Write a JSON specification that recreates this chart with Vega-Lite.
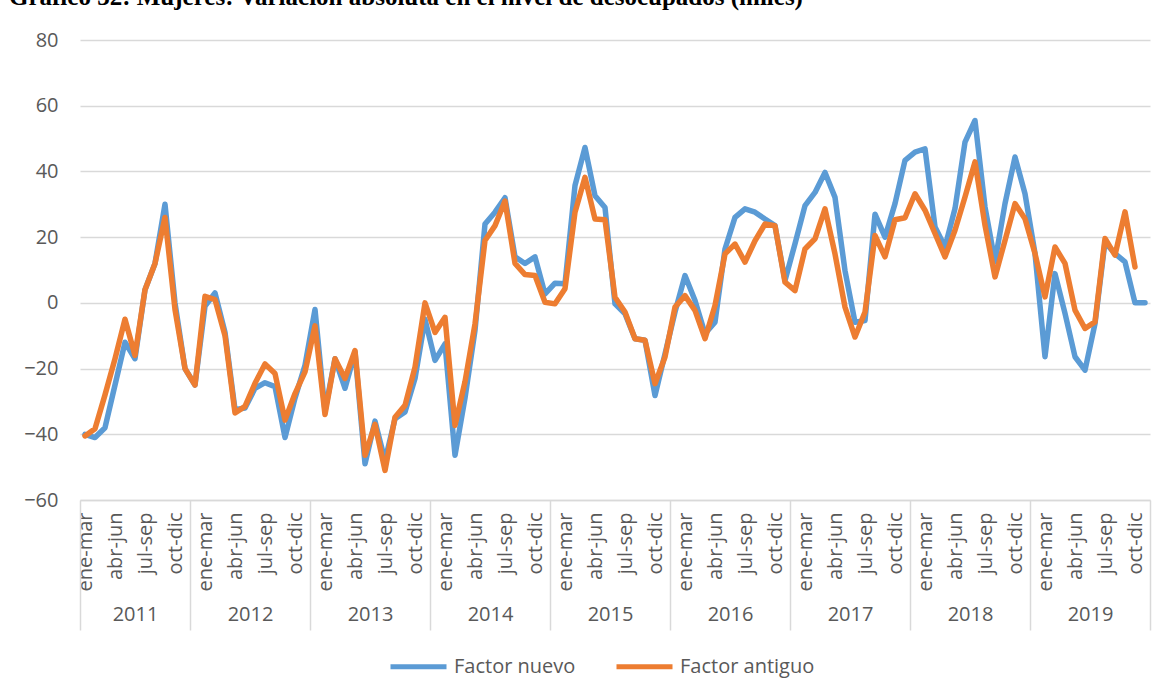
{
  "$schema": "https://vega.github.io/schema/vega-lite/v6.json",
  "width": 1070,
  "height": 460,
  "autosize": {"type": "none"},
  "padding": {"left": 80, "top": 40, "right": 17, "bottom": 198},
  "background": "white",
  "title": {
    "text": "Gráfico 32: Mujeres: Variación absoluta en el nivel de desocupados (miles)",
    "anchor": "start",
    "frame": "group",
    "font": "Liberation Serif",
    "fontSize": 25,
    "fontWeight": "bold",
    "color": "black",
    "dx": -71,
    "offset": 0,
    "baseline": "alphabetic"
  },
  "config": {
    "view": {"stroke": null},
    "legend": {
      "orient": "none",
      "legendX": 308,
      "legendY": 596,
      "direction": "horizontal",
      "title": null,
      "symbolType": "stroke",
      "symbolSize": 3136,
      "symbolStrokeWidth": 5,
      "labelFont": "Open Sans",
      "labelFontSize": 20,
      "labelColor": "#595959",
      "labelOffset": 5,
      "columnPadding": 30,
      "labelLimit": 400
    }
  },
  "data": {
    "values": [
      {"i": 0, "anio": 2011, "trimestre": "ene-mar", "nuevo": -40, "antiguo": -40.5},
      {"i": 1, "anio": 2011, "trimestre": "feb-abr", "nuevo": -41, "antiguo": -38.3},
      {"i": 2, "anio": 2011, "trimestre": "mar-may", "nuevo": -38, "antiguo": -28},
      {"i": 3, "anio": 2011, "trimestre": "abr-jun", "nuevo": -25, "antiguo": -17},
      {"i": 4, "anio": 2011, "trimestre": "may-jul", "nuevo": -12, "antiguo": -5},
      {"i": 5, "anio": 2011, "trimestre": "jun-ago", "nuevo": -17, "antiguo": -16},
      {"i": 6, "anio": 2011, "trimestre": "jul-sep", "nuevo": 4, "antiguo": 4},
      {"i": 7, "anio": 2011, "trimestre": "ago-oct", "nuevo": 12, "antiguo": 12},
      {"i": 8, "anio": 2011, "trimestre": "sep-nov", "nuevo": 30, "antiguo": 26},
      {"i": 9, "anio": 2011, "trimestre": "oct-dic", "nuevo": 0, "antiguo": -2},
      {"i": 10, "anio": 2011, "trimestre": "nov-ene", "nuevo": -20, "antiguo": -20},
      {"i": 11, "anio": 2012, "trimestre": "dic-feb", "nuevo": -25, "antiguo": -25},
      {"i": 12, "anio": 2012, "trimestre": "ene-mar", "nuevo": -1, "antiguo": 2},
      {"i": 13, "anio": 2012, "trimestre": "feb-abr", "nuevo": 3, "antiguo": 1},
      {"i": 14, "anio": 2012, "trimestre": "mar-may", "nuevo": -9, "antiguo": -10},
      {"i": 15, "anio": 2012, "trimestre": "abr-jun", "nuevo": -32.5, "antiguo": -33.5},
      {"i": 16, "anio": 2012, "trimestre": "may-jul", "nuevo": -32, "antiguo": -31.5},
      {"i": 17, "anio": 2012, "trimestre": "jun-ago", "nuevo": -26, "antiguo": -24.5},
      {"i": 18, "anio": 2012, "trimestre": "jul-sep", "nuevo": -24.3, "antiguo": -18.6},
      {"i": 19, "anio": 2012, "trimestre": "ago-oct", "nuevo": -25.5, "antiguo": -21.5},
      {"i": 20, "anio": 2012, "trimestre": "sep-nov", "nuevo": -41, "antiguo": -35.7},
      {"i": 21, "anio": 2012, "trimestre": "oct-dic", "nuevo": -29, "antiguo": -27.6},
      {"i": 22, "anio": 2012, "trimestre": "nov-ene", "nuevo": -19, "antiguo": -21},
      {"i": 23, "anio": 2013, "trimestre": "dic-feb", "nuevo": -2, "antiguo": -7},
      {"i": 24, "anio": 2013, "trimestre": "ene-mar", "nuevo": -33, "antiguo": -34},
      {"i": 25, "anio": 2013, "trimestre": "feb-abr", "nuevo": -17, "antiguo": -17},
      {"i": 26, "anio": 2013, "trimestre": "mar-may", "nuevo": -26, "antiguo": -23},
      {"i": 27, "anio": 2013, "trimestre": "abr-jun", "nuevo": -15, "antiguo": -14.5},
      {"i": 28, "anio": 2013, "trimestre": "may-jul", "nuevo": -49, "antiguo": -46.4},
      {"i": 29, "anio": 2013, "trimestre": "jun-ago", "nuevo": -36, "antiguo": -37},
      {"i": 30, "anio": 2013, "trimestre": "jul-sep", "nuevo": -48, "antiguo": -51},
      {"i": 31, "anio": 2013, "trimestre": "ago-oct", "nuevo": -35.3, "antiguo": -34.8},
      {"i": 32, "anio": 2013, "trimestre": "sep-nov", "nuevo": -33.2, "antiguo": -31.2},
      {"i": 33, "anio": 2013, "trimestre": "oct-dic", "nuevo": -23, "antiguo": -19.6},
      {"i": 34, "anio": 2013, "trimestre": "nov-ene", "nuevo": -5, "antiguo": 0},
      {"i": 35, "anio": 2014, "trimestre": "dic-feb", "nuevo": -17.5, "antiguo": -9},
      {"i": 36, "anio": 2014, "trimestre": "ene-mar", "nuevo": -12.5, "antiguo": -4.4},
      {"i": 37, "anio": 2014, "trimestre": "feb-abr", "nuevo": -46.4, "antiguo": -37.3},
      {"i": 38, "anio": 2014, "trimestre": "mar-may", "nuevo": -29, "antiguo": -24},
      {"i": 39, "anio": 2014, "trimestre": "abr-jun", "nuevo": -8.4, "antiguo": -6.4},
      {"i": 40, "anio": 2014, "trimestre": "may-jul", "nuevo": 24, "antiguo": 19},
      {"i": 41, "anio": 2014, "trimestre": "jun-ago", "nuevo": 27.6, "antiguo": 23.5},
      {"i": 42, "anio": 2014, "trimestre": "jul-sep", "nuevo": 32, "antiguo": 31},
      {"i": 43, "anio": 2014, "trimestre": "ago-oct", "nuevo": 14, "antiguo": 12},
      {"i": 44, "anio": 2014, "trimestre": "sep-nov", "nuevo": 12, "antiguo": 8.6},
      {"i": 45, "anio": 2014, "trimestre": "oct-dic", "nuevo": 14, "antiguo": 8.3},
      {"i": 46, "anio": 2014, "trimestre": "nov-ene", "nuevo": 2.7, "antiguo": 0.2},
      {"i": 47, "anio": 2015, "trimestre": "dic-feb", "nuevo": 6, "antiguo": -0.3},
      {"i": 48, "anio": 2015, "trimestre": "ene-mar", "nuevo": 5.8, "antiguo": 4.3},
      {"i": 49, "anio": 2015, "trimestre": "feb-abr", "nuevo": 35.7, "antiguo": 27.6},
      {"i": 50, "anio": 2015, "trimestre": "mar-may", "nuevo": 47.3, "antiguo": 38.2},
      {"i": 51, "anio": 2015, "trimestre": "abr-jun", "nuevo": 32.6, "antiguo": 25.5},
      {"i": 52, "anio": 2015, "trimestre": "may-jul", "nuevo": 29, "antiguo": 25.3},
      {"i": 53, "anio": 2015, "trimestre": "jun-ago", "nuevo": -0.3, "antiguo": 1.7},
      {"i": 54, "anio": 2015, "trimestre": "jul-sep", "nuevo": -3.3, "antiguo": -2.8},
      {"i": 55, "anio": 2015, "trimestre": "ago-oct", "nuevo": -10.9, "antiguo": -10.9},
      {"i": 56, "anio": 2015, "trimestre": "sep-nov", "nuevo": -11.4, "antiguo": -11.4},
      {"i": 57, "anio": 2015, "trimestre": "oct-dic", "nuevo": -28.2, "antiguo": -24.6},
      {"i": 58, "anio": 2015, "trimestre": "nov-ene", "nuevo": -15.5, "antiguo": -16.5},
      {"i": 59, "anio": 2016, "trimestre": "dic-feb", "nuevo": -2.8, "antiguo": -1.3},
      {"i": 60, "anio": 2016, "trimestre": "ene-mar", "nuevo": 8.3, "antiguo": 2.2},
      {"i": 61, "anio": 2016, "trimestre": "feb-abr", "nuevo": 0.7, "antiguo": -2.3},
      {"i": 62, "anio": 2016, "trimestre": "mar-may", "nuevo": -9.4, "antiguo": -10.9},
      {"i": 63, "anio": 2016, "trimestre": "abr-jun", "nuevo": -5.9, "antiguo": -0.8},
      {"i": 64, "anio": 2016, "trimestre": "may-jul", "nuevo": 16.4, "antiguo": 14.9},
      {"i": 65, "anio": 2016, "trimestre": "jun-ago", "nuevo": 26, "antiguo": 17.9},
      {"i": 66, "anio": 2016, "trimestre": "jul-sep", "nuevo": 28.6, "antiguo": 12.4},
      {"i": 67, "anio": 2016, "trimestre": "ago-oct", "nuevo": 27.6, "antiguo": 18.9},
      {"i": 68, "anio": 2016, "trimestre": "sep-nov", "nuevo": 25.5, "antiguo": 24},
      {"i": 69, "anio": 2016, "trimestre": "oct-dic", "nuevo": 23.5, "antiguo": 23.5},
      {"i": 70, "anio": 2016, "trimestre": "nov-ene", "nuevo": 6.8, "antiguo": 6.3},
      {"i": 71, "anio": 2017, "trimestre": "dic-feb", "nuevo": 18, "antiguo": 3.7},
      {"i": 72, "anio": 2017, "trimestre": "ene-mar", "nuevo": 29.6, "antiguo": 16.4},
      {"i": 73, "anio": 2017, "trimestre": "feb-abr", "nuevo": 33.6, "antiguo": 19.5},
      {"i": 74, "anio": 2017, "trimestre": "mar-may", "nuevo": 39.7, "antiguo": 28.6},
      {"i": 75, "anio": 2017, "trimestre": "abr-jun", "nuevo": 32.1, "antiguo": 14.9},
      {"i": 76, "anio": 2017, "trimestre": "may-jul", "nuevo": 9.8, "antiguo": -1.3},
      {"i": 77, "anio": 2017, "trimestre": "jun-ago", "nuevo": -5.9, "antiguo": -10.4},
      {"i": 78, "anio": 2017, "trimestre": "jul-sep", "nuevo": -5.4, "antiguo": -2.8},
      {"i": 79, "anio": 2017, "trimestre": "ago-oct", "nuevo": 27, "antiguo": 20.5},
      {"i": 80, "anio": 2017, "trimestre": "sep-nov", "nuevo": 20, "antiguo": 14},
      {"i": 81, "anio": 2017, "trimestre": "oct-dic", "nuevo": 30.2, "antiguo": 25.3},
      {"i": 82, "anio": 2017, "trimestre": "nov-ene", "nuevo": 43.4, "antiguo": 25.9},
      {"i": 83, "anio": 2018, "trimestre": "dic-feb", "nuevo": 45.9, "antiguo": 33.2},
      {"i": 84, "anio": 2018, "trimestre": "ene-mar", "nuevo": 46.9, "antiguo": 28.2},
      {"i": 85, "anio": 2018, "trimestre": "feb-abr", "nuevo": 23.1, "antiguo": 21.1},
      {"i": 86, "anio": 2018, "trimestre": "mar-may", "nuevo": 17, "antiguo": 14},
      {"i": 87, "anio": 2018, "trimestre": "abr-jun", "nuevo": 28.7, "antiguo": 22.1},
      {"i": 88, "anio": 2018, "trimestre": "may-jul", "nuevo": 48.9, "antiguo": 32.2},
      {"i": 89, "anio": 2018, "trimestre": "jun-ago", "nuevo": 55.5, "antiguo": 42.9},
      {"i": 90, "anio": 2018, "trimestre": "jul-sep", "nuevo": 29.2, "antiguo": 23.6},
      {"i": 91, "anio": 2018, "trimestre": "ago-oct", "nuevo": 12.5, "antiguo": 7.9},
      {"i": 92, "anio": 2018, "trimestre": "sep-nov", "nuevo": 30.2, "antiguo": 19},
      {"i": 93, "anio": 2018, "trimestre": "oct-dic", "nuevo": 44.4, "antiguo": 30.2},
      {"i": 94, "anio": 2018, "trimestre": "nov-ene", "nuevo": 33.2, "antiguo": 25.6},
      {"i": 95, "anio": 2019, "trimestre": "dic-feb", "nuevo": 15, "antiguo": 15},
      {"i": 96, "anio": 2019, "trimestre": "ene-mar", "nuevo": -16.4, "antiguo": 1.8},
      {"i": 97, "anio": 2019, "trimestre": "feb-abr", "nuevo": 8.9, "antiguo": 17},
      {"i": 98, "anio": 2019, "trimestre": "mar-may", "nuevo": -3.2, "antiguo": 12},
      {"i": 99, "anio": 2019, "trimestre": "abr-jun", "nuevo": -16.4, "antiguo": -2.2},
      {"i": 100, "anio": 2019, "trimestre": "may-jul", "nuevo": -20.5, "antiguo": -7.8},
      {"i": 101, "anio": 2019, "trimestre": "jun-ago", "nuevo": -6.3, "antiguo": -5.8},
      {"i": 102, "anio": 2019, "trimestre": "jul-sep", "nuevo": 18.5, "antiguo": 19.6},
      {"i": 103, "anio": 2019, "trimestre": "ago-oct", "nuevo": 15, "antiguo": 14.5},
      {"i": 104, "anio": 2019, "trimestre": "sep-nov", "nuevo": 12.5, "antiguo": 27.7},
      {"i": 105, "anio": 2019, "trimestre": "oct-dic", "nuevo": 0, "antiguo": 10.9},
      {"i": 106, "anio": 2019, "trimestre": "nov-ene", "nuevo": 0, "antiguo": null}
    ]
  },
  "layer": [
    {
      "mark": {"type": "line", "strokeWidth": 5.5, "strokeCap": "round", "strokeJoin": "round"},
      "encoding": {
        "x": {
          "field": "i", "type": "quantitative",
          "scale": {"domain": [-0.5, 106.5], "nice": false, "zero": false},
          "axis": {
            "orient": "bottom",
            "values": [0, 3, 6, 9, 12, 15, 18, 21, 24, 27, 30, 33, 36, 39, 42, 45, 48, 51, 54, 57, 60, 63, 66, 69, 72, 75, 78, 81, 84, 87, 90, 93, 96, 99, 102, 105],
            "labelExpr": "['ene-mar','abr-jun','jul-sep','oct-dic'][(datum.value % 12) / 3]",
            "labelAngle": -90,
            "ticks": false,
            "grid": false,
            "domain": true,
            "domainColor": "#D9D9D9",
            "domainWidth": 1.5,
            "labelPadding": 12,
            "labelFont": "Open Sans",
            "labelFontSize": 20,
            "labelColor": "#595959",
            "labelOverlap": false,
            "labelFlush": false,
            "labelBound": false,
            "title": null
          }
        },
        "y": {
          "field": "nuevo", "type": "quantitative",
          "scale": {"domain": [-60, 80], "nice": false, "zero": false},
          "axis": {
            "values": [-60, -40, -20, 0, 20, 40, 60, 80],
            "grid": true, "gridColor": "#D9D9D9", "gridWidth": 1.5,
            "domain": false, "ticks": false, "labelPadding": 22,
            "labelFont": "Open Sans", "labelFontSize": 20, "labelColor": "#595959",
            "title": null
          }
        },
        "color": {
          "datum": "Factor nuevo",
          "scale": {"domain": ["Factor nuevo", "Factor antiguo"], "range": ["#5B9BD5", "#ED7D31"]}
        }
      }
    },
    {
      "mark": {"type": "line", "strokeWidth": 5.5, "strokeCap": "round", "strokeJoin": "round"},
      "encoding": {
        "x": {
          "field": "i", "type": "quantitative",
          "scale": {"domain": [-0.5, 106.5], "nice": false, "zero": false},
          "axis": null
        },
        "y": {
          "field": "antiguo", "type": "quantitative",
          "scale": {"domain": [-60, 80], "nice": false, "zero": false},
          "axis": {
            "values": [-60, -40, -20, 0, 20, 40, 60, 80],
            "grid": true, "gridColor": "#D9D9D9", "gridWidth": 1.5,
            "domain": false, "ticks": false, "labelPadding": 22,
            "labelFont": "Open Sans", "labelFontSize": 20, "labelColor": "#595959",
            "title": null
          }
        },
        "color": {"datum": "Factor antiguo"}
      }
    },
    {
      "mark": {"type": "rule", "opacity": 0},
      "encoding": {
        "x": {
          "field": "i", "type": "quantitative",
          "scale": {"domain": [-0.5, 106.5], "nice": false, "zero": false},
          "axis": {
            "orient": "bottom",
            "values": [-0.5, 10.5, 22.5, 34.5, 46.5, 58.5, 70.5, 82.5, 94.5, 106.5],
            "ticks": true, "tickSize": 130, "tickColor": "#D9D9D9", "tickWidth": 1.5,
            "labels": false, "domain": false, "grid": false, "title": null
          }
        }
      }
    },
    {
      "mark": {"type": "rule", "opacity": 0},
      "encoding": {
        "x": {
          "field": "i", "type": "quantitative",
          "scale": {"domain": [-0.5, 106.5], "nice": false, "zero": false},
          "axis": {
            "orient": "bottom",
            "values": [5, 16.5, 28.5, 40.5, 52.5, 64.5, 76.5, 88.5, 100.5],
            "labelExpr": "datum.value < 10 ? '2011' : '' + (2012 + floor((datum.value - 10.5) / 12))",
            "ticks": false, "domain": false, "grid": false,
            "labelPadding": 104, "labelAngle": 0,
            "labelFont": "Open Sans", "labelFontSize": 20, "labelColor": "#595959",
            "labelOverlap": false, "labelFlush": false, "labelBound": false,
            "title": null
          }
        }
      }
    }
  ],
  "resolve": {"axis": {"x": "independent"}}
}
